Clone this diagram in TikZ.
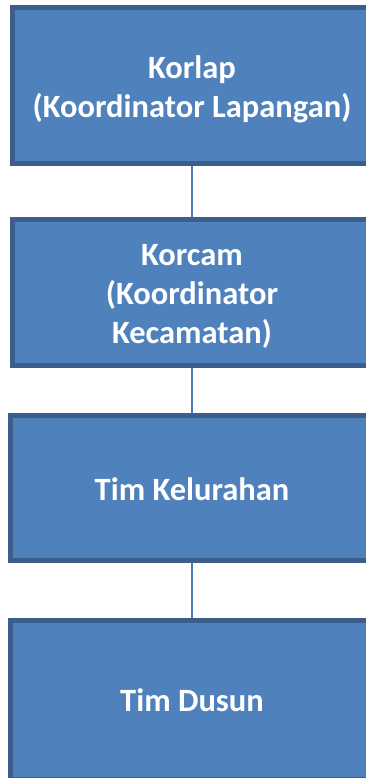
\documentclass[tikz,border=0pt]{standalone}
\usepackage{fontspec}
\setmainfont{Carlito}
\definecolor{boxfill}{HTML}{4F81BD}
\definecolor{boxline}{HTML}{3B5E8C}
\definecolor{conn}{HTML}{4A7EBB}
\begin{document}
\begin{tikzpicture}[x=1pt,y=1pt,
  orgbox/.style={draw=boxline, fill=boxfill, line width=5pt, inner sep=0pt},
  boxtext/.style={inner sep=0pt, text=white, font=\fontsize{32.5}{39}\selectfont\bfseries, align=center},
  link/.style={draw=conn, line width=2.5pt}]
\useasboundingbox (0,0) rectangle (366,778);
\clip (0,0) rectangle (366,778);
\node[orgbox, minimum width=359pt, minimum height=156pt] (b1) at (192,{778-85.5}) {};
\node[orgbox, minimum width=359pt, minimum height=146pt] (b2) at (192,{778-292.5}) {};
\node[orgbox, minimum width=363pt, minimum height=145pt] (b3) at (192,{778-488}) {};
\node[orgbox, minimum width=363pt, minimum height=159pt] (b4) at (192,{778-700}) {};
\node[boxtext] (t1) at ([yshift=-4pt]b1.center) {Korlap\\(Koordinator Lapangan)};
\node[boxtext] (t2) at ([yshift=-4pt]b2.center) {Korcam\\(Koordinator\\Kecamatan)};
\node[boxtext] (t3) at ([yshift=-1pt]b3.center) {Tim Kelurahan};
\node[boxtext] (t4) at (b4.center) {Tim Dusun};
\draw[link] (b1.south) -- (b2.north);
\draw[link] (b2.south) -- (b3.north);
\draw[link] (b3.south) -- (b4.north);
\end{tikzpicture}
\end{document}
